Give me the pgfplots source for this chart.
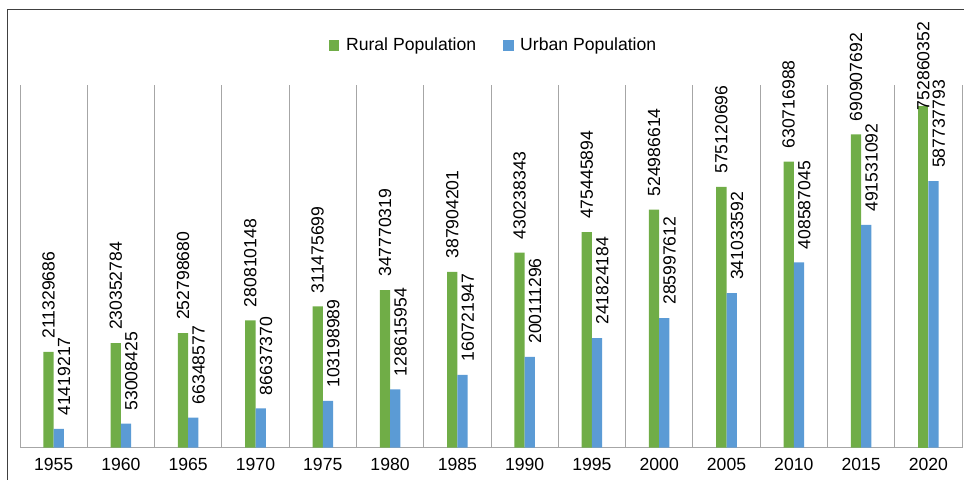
\documentclass[border=0pt]{standalone}
\usepackage{pgfplots}
\usepackage{pgfplotstable}
\pgfplotsset{compat=1.18}
\usepackage{fontspec}
\setmainfont{Liberation Sans}
\definecolor{rural}{HTML}{70AD47}
\definecolor{urban}{HTML}{5B9BD5}
\definecolor{gridc}{HTML}{A6A6A6}
\pgfplotstableread{
x year r u
0 1955 211329686 41419217
1 1960 230352784 53008425
2 1965 252798680 66348577
3 1970 280810148 86637370
4 1975 311475699 103198989
5 1980 347770319 128615954
6 1985 387904201 160721947
7 1990 430238343 200111296
8 1995 475445894 241824184
9 2000 524986614 285997612
10 2005 575120696 341033592
11 2010 630716988 408587045
12 2015 690907692 491531092
13 2020 752860352 587737793
}\datatable
\newcommand{\cf}{\fontsize{13.2}{15}\selectfont}
\begin{document}
\begin{tikzpicture}
\useasboundingbox (0,0) rectangle (723pt,359.25pt);
\draw[black!75, line width=0.75pt] (5.25pt,-2pt) -- (5.25pt,351.75pt) -- (725pt,351.75pt);
\begin{axis}[
  at={(15pt,23.5pt)}, anchor=south west,
  width=706.5pt, height=272pt, scale only axis,
  xmin=-0.5, xmax=13.5, ymin=0, ymax=8e8,
  ybar=0pt, bar width=7.7pt,
  clip=false,
  xtick={0,...,13},
  xticklabels={1955,1960,1965,1970,1975,1980,1985,1990,1995,2000,2005,2010,2015,2020},
  minor xtick={-0.5,0.5,...,13.5},
  xminorgrids,
  minor grid style={gridc, line width=0.75pt},
  major tick length=0pt, minor tick length=0pt,
  axis x line*=bottom,
  axis y line=none,
  ytick=\empty,
  x axis line style={-, gridc, line width=0.75pt},
  xticklabel style={font=\cf, yshift=-4.4pt},
  /pgf/number format/assume math mode=true,
  legend style={at={(0.503,1.109)}, anchor=center, draw=none, fill=none,
     font=\cf, legend columns=2,
     /tikz/every even column/.append style={column sep=18pt}},
  legend image code/.code={\fill[#1,draw=none] (0pt,-4pt) rectangle (8pt,4pt); \path (11pt,0pt);},
]
\addplot[fill=rural, draw=none, bar shift=-3.85pt,
  restrict x to domain=0:12,
  point meta=explicit symbolic,
  nodes near coords,
  every node near coord/.append style={font=\cf, yshift=9.75pt, rotate=90, anchor=west, inner sep=0pt, text=black},
] table[x=x, y=r, meta=r] {\datatable};
\addlegendentry{Rural Population}
\addplot[fill=urban, draw=none, bar shift=3.85pt,
  point meta=explicit symbolic,
  nodes near coords,
  every node near coord/.append style={font=\cf, xshift=4pt, yshift=9.75pt, rotate=90, anchor=west, inner sep=0pt, text=black},
] table[x=x, y=u, meta=u] {\datatable};
\addlegendentry{Urban Population}
\addplot[fill=rural, draw=none, bar shift=-3.85pt, forget plot,
  restrict x to domain=13:13,
  point meta=explicit symbolic,
  nodes near coords,
  every node near coord/.append style={font=\cf, yshift=-3pt, rotate=90, anchor=west, inner sep=0pt, text=black},
] table[x=x, y=r, meta=r] {\datatable};
\end{axis}
\end{tikzpicture}
\end{document}
